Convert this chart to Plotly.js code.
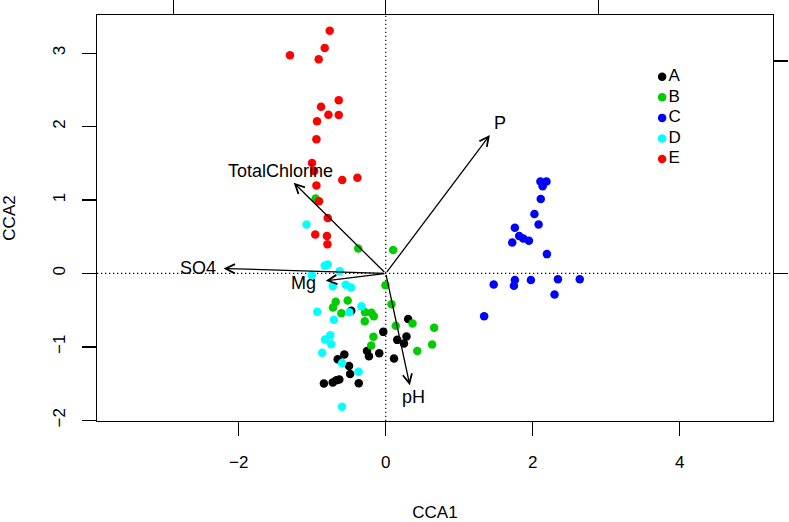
<!DOCTYPE html>
<html>
<head>
<meta charset="utf-8">
<script src="https://cdn.plot.ly/plotly-3.0.1.min.js"></script>
<style>html,body{margin:0;padding:0;background:#fff;}#plot{width:789px;height:522px;}</style>
</head>
<body>
<div id="plot"></div>
<script>
// ---- site scores (CCA1, CCA2) by group ----
const groupNames = ['A', 'B', 'C', 'D', 'E'];
const groupColors = ['#000000', '#00CD00', '#0000FF', '#00FFFF', '#FF0000'];

const aX = [-0.470, -0.034, 0.304, 0.156, 0.248, 0.282, -0.255, -0.229, -0.089, -0.564, -0.654, -0.500, -0.485, -0.842, -0.722, -0.672, -0.632, -0.368, 0.112];
const aY = [-0.507, -0.796, -0.620, -0.905, -0.954, -0.860, -1.055, -1.127, -1.087, -1.103, -1.168, -1.261, -1.369, -1.500, -1.486, -1.455, -1.445, -1.496, -1.159];

const bX = [-0.954, -0.375, 0.100, -0.004, -0.681, -0.718, -0.518, -0.604, -0.282, -0.195, -0.163, -0.286, 0.078, 0.136, 0.364, 0.658, -0.168, -0.198, 0.429, 0.631];
const bY = [1.020, 0.341, 0.318, -0.160, -0.387, -0.464, -0.368, -0.541, -0.528, -0.537, -0.582, -0.650, -0.419, -0.712, -0.682, -0.739, -0.862, -0.982, -1.055, -0.967];

const cX = [2.105, 2.187, 2.135, 2.109, 2.023, 2.080, 1.757, 1.816, 1.871, 1.948, 1.721, 2.193, 1.469, 1.757, 1.744, 1.975, 2.343, 2.640, 2.297, 1.339];
const cY = [1.252, 1.252, 1.186, 1.013, 0.808, 0.668, 0.622, 0.509, 0.477, 0.444, 0.420, 0.263, -0.150, -0.091, -0.169, -0.091, -0.078, -0.078, -0.286, -0.582];

const dX = [-1.079, -0.831, -0.790, -1.008, -0.627, -0.722, -0.545, -0.472, -0.933, -0.331, -0.496, -0.706, -0.827, -0.756, -0.743, -0.865, -0.595, -0.370, -0.595];
const dY = [0.668, 0.106, 0.120, -0.023, 0.031, -0.173, -0.153, -0.191, -0.521, -0.446, -0.530, -0.631, -0.900, -0.841, -0.964, -1.081, -1.219, -1.339, -1.815];

const eX = [-0.763, -0.831, -1.304, -0.913, -0.640, -0.881, -0.781, -0.640, -0.936, -0.944, -1.004, -0.974, -0.592, -0.386, -0.944, -0.908, -0.790, -0.960, -0.801, -0.794];
const eY = [3.307, 3.072, 2.972, 2.918, 2.359, 2.271, 2.162, 2.158, 2.072, 1.827, 1.504, 1.395, 1.272, 1.303, 1.197, 0.982, 0.754, 0.529, 0.511, 0.397];

// ---- environmental vectors (biplot arrows) ----
const envNames = ['TotalChlorine', 'SO4', 'Mg', 'P', 'pH'];
const envX = [-1.253, -2.207, -0.817, 1.417, 0.327];
const envY = [1.235, 0.068, -0.101, 1.885, -1.523];
const envLabelX = [-1.431, -2.557, -1.113, 1.553, 0.375];
const envLabelY = [1.400, 0.072, -0.125, 2.045, -1.680];

// ---- axes ----
const xTicks = [-2, 0, 2, 4];
const yTicks = [-2, -1, 0, 1, 2, 3];
const arrowTicks = [-1, 0, 1];
const arrowMul = 2.892;
const xRange = [-3.93, 5.27];
const yRange = [-2.01, 3.52];

const groupsX = [aX, bX, cX, dX, eX];
const groupsY = [aY, bY, cY, dY, eY];

const FONT = '"Liberation Sans", Arial, Helvetica, sans-serif';
const fmt = v => v < 0 ? '\u2212' + Math.abs(v) : String(v);

const traces = groupNames.map((g, i) => ({
  type: 'scatter', mode: 'markers', name: g,
  x: groupsX[i], y: groupsY[i],
  marker: {color: groupColors[i], size: 8.5, line: {width: 0}},
  hoverinfo: 'skip', showlegend: false
}));
// secondary (arrow-scale) axes on top and right
traces.push({type: 'scatter', x: [], y: [], xaxis: 'x2', yaxis: 'y2', showlegend: false, hoverinfo: 'skip'});
// legend box (R-style legend: point then label), placed in plot-fraction coordinates
const legendLeft = 0.836, legendTop = 0.848, legendStep = 0.0507;
traces.push({
  type: 'scatter', mode: 'markers+text', xaxis: 'x3', yaxis: 'y3', showlegend: false, hoverinfo: 'skip',
  x: groupNames.map(() => legendLeft),
  y: groupNames.map((g, i) => legendTop - i * legendStep),
  text: groupNames, textposition: 'middle right',
  textfont: {family: FONT, size: 17, color: '#000'},
  marker: {color: groupColors, size: 8.5, line: {width: 0}},
  cliponaxis: false
});

const annotations = [];
envNames.forEach((n, i) => {
  annotations.push({
    x: envX[i], y: envY[i], ax: 0, ay: 0, xref: 'x', yref: 'y', axref: 'x', ayref: 'y',
    text: '', showarrow: true, arrowhead: 5, arrowsize: 1.4, arrowwidth: 1.3, arrowcolor: '#000',
    standoff: 0, startstandoff: 0
  });
  annotations.push({
    x: envLabelX[i], y: envLabelY[i], xref: 'x', yref: 'y', text: n, showarrow: false,
    xanchor: 'center', yanchor: 'middle', font: {family: FONT, size: 18, color: '#000'}
  });
});

const layout = {
  width: 789, height: 522,
  margin: {l: 97, r: 16, t: 15, b: 101},
  paper_bgcolor: '#fff', plot_bgcolor: '#fff',
  font: {family: FONT, size: 17, color: '#000'},
  showlegend: false,
  xaxis: {
    range: xRange, tickvals: xTicks, ticktext: xTicks.map(fmt),
    showgrid: false, zeroline: false, showline: true, mirror: true, linecolor: '#000', linewidth: 1.3,
    ticks: 'outside', ticklen: 14, tickwidth: 1.3, tickcolor: '#000',
    tickfont: {family: FONT, size: 17}, ticklabelstandoff: 11,
    title: {text: 'CCA1', font: {family: FONT, size: 17}, standoff: 36}
  },
  yaxis: {
    range: yRange, tickvals: yTicks, ticktext: yTicks.map(fmt),
    tickangle: -90,
    showgrid: false, zeroline: false, showline: true, mirror: true, linecolor: '#000', linewidth: 1.3,
    ticks: 'outside', ticklen: 14, tickwidth: 1.3, tickcolor: '#000',
    tickfont: {family: FONT, size: 17}, ticklabelstandoff: 10,
    title: {text: 'CCA2', font: {family: FONT, size: 17}, standoff: 35}
  },
  xaxis2: {
    overlaying: 'x', side: 'top', anchor: 'y2',
    range: xRange.map(v => v / arrowMul), tickvals: arrowTicks, showticklabels: false,
    ticks: 'outside', ticklen: 14, tickwidth: 1.3, tickcolor: '#000',
    showgrid: false, zeroline: false, showline: false
  },
  yaxis2: {
    overlaying: 'y', side: 'right', anchor: 'x2',
    range: yRange.map(v => v / arrowMul), tickvals: arrowTicks, showticklabels: false,
    ticks: 'outside', ticklen: 14, tickwidth: 1.3, tickcolor: '#000',
    showgrid: false, zeroline: false, showline: false
  },
  xaxis3: {overlaying: 'x', anchor: 'y3', range: [0, 1], visible: false, fixedrange: true},
  yaxis3: {overlaying: 'y', anchor: 'x3', range: [0, 1], visible: false, fixedrange: true},
  shapes: [
    {type: 'line', xref: 'x', yref: 'paper', x0: 0, x1: 0, y0: 0, y1: 1, line: {color: '#000', width: 1.2, dash: '1.3px,2.7px'}, layer: 'below'},
    {type: 'line', xref: 'paper', yref: 'y', x0: 0, x1: 1, y0: 0, y1: 0, line: {color: '#000', width: 1.2, dash: '1.3px,2.7px'}, layer: 'below'}
  ],
  annotations: annotations
};

Plotly.newPlot('plot', traces, layout, {staticPlot: true, displayModeBar: false});
</script>
</body>
</html>
